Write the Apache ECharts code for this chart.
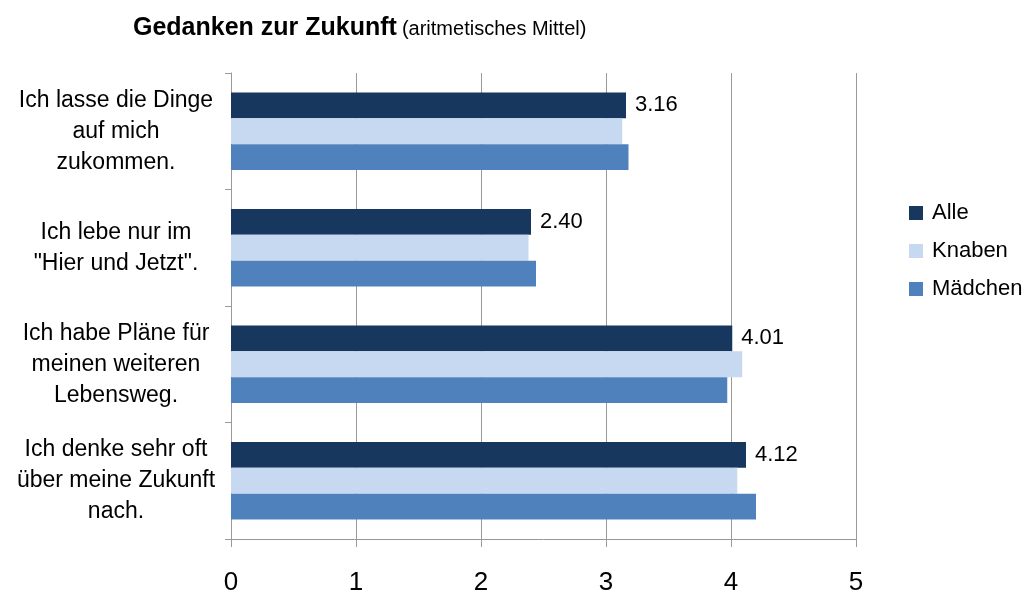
<!DOCTYPE html>
<html>
<head>
<meta charset="utf-8">
<script src="https://cdn.jsdelivr.net/npm/echarts@6/dist/echarts.min.js"></script>
<style>
  html, body { margin: 0; padding: 0; background: #fff; }
  #bar { width: 1030px; height: 596px; }
</style>
</head>
<body>
<div id="bar"></div>
<script>
// Daten
var categories = [
    'Ich lasse die Dinge\nauf mich\nzukommen.',
    'Ich lebe nur im\n"Hier und Jetzt".',
    'Ich habe Pläne für\nmeinen weiteren\nLebensweg.',
    'Ich denke sehr oft\nüber meine Zukunft\nnach.'
];
var alle = [3.16, 2.40, 4.01, 4.12];
var knaben = [3.13, 2.38, 4.09, 4.05];
var maedchen = [3.18, 2.44, 3.97, 4.20];

var font = 'Liberation Sans, Arial, sans-serif';

var myChart = echarts.init(document.getElementById('bar'));

var option = {
    backgroundColor: '#fff',
    animation: false,
    textStyle: { fontFamily: font, color: '#000' },
    title: {
        text: '{b|Gedanken zur Zukunft} {n|(aritmetisches Mittel)}',
        left: 128,
        top: 8,
        textStyle: {
            rich: {
                b: { fontFamily: font, fontSize: 25, fontWeight: 'bold', color: '#000', lineHeight: 30 },
                n: { fontFamily: font, fontSize: 20, fontWeight: 'normal', color: '#000', lineHeight: 30, padding: [3, 0, 0, 0] }
            }
        }
    },
    legend: {
        orient: 'vertical',
        left: 904,
        top: 197,
        itemWidth: 14,
        itemHeight: 14,
        itemGap: 16,
        icon: 'rect',
        textStyle: { fontFamily: font, fontSize: 22, color: '#000', padding: [0, 0, 0, 4] },
        data: ['Alle', 'Knaben', 'Mädchen']
    },
    grid: { left: 231, right: 174, top: 73, bottom: 54 },
    xAxis: {
        type: 'value',
        min: 0,
        max: 5,
        interval: 1,
        axisLine: { show: true, lineStyle: { color: '#999' } },
        axisTick: { show: true, length: 8, lineStyle: { color: '#999' } },
        splitLine: { show: true, lineStyle: { color: '#999' } },
        axisLabel: { fontFamily: font, fontSize: 26, color: '#000', margin: 31 }
    },
    yAxis: {
        type: 'category',
        inverse: true,
        data: categories,
        axisLine: { show: true, lineStyle: { color: '#999' } },
        axisTick: { show: true, length: 6, lineStyle: { color: '#999' } },
        axisLabel: {
            fontFamily: font,
            fontSize: 23,
            lineHeight: 31,
            color: '#000',
            align: 'center',
            margin: 115
        }
    },
    series: [
        {
            name: 'Alle',
            type: 'bar',
            data: alle,
            barGap: '0%',
            barCategoryGap: '33.5%',
            itemStyle: { color: '#17375E' },
            label: {
                show: true,
                position: 'right',
                distance: 9,
                fontFamily: font,
                fontSize: 22,
                color: '#000',
                formatter: function (p) { return p.value.toFixed(2); }
            }
        },
        {
            name: 'Knaben',
            type: 'bar',
            data: knaben,
            barGap: '0%',
            barCategoryGap: '33.5%',
            itemStyle: { color: '#C6D9F1' }
        },
        {
            name: 'Mädchen',
            type: 'bar',
            data: maedchen,
            barGap: '0%',
            barCategoryGap: '33.5%',
            itemStyle: { color: '#4F81BD' }
        }
    ]
};

myChart.setOption(option);
</script>
</body>
</html>
